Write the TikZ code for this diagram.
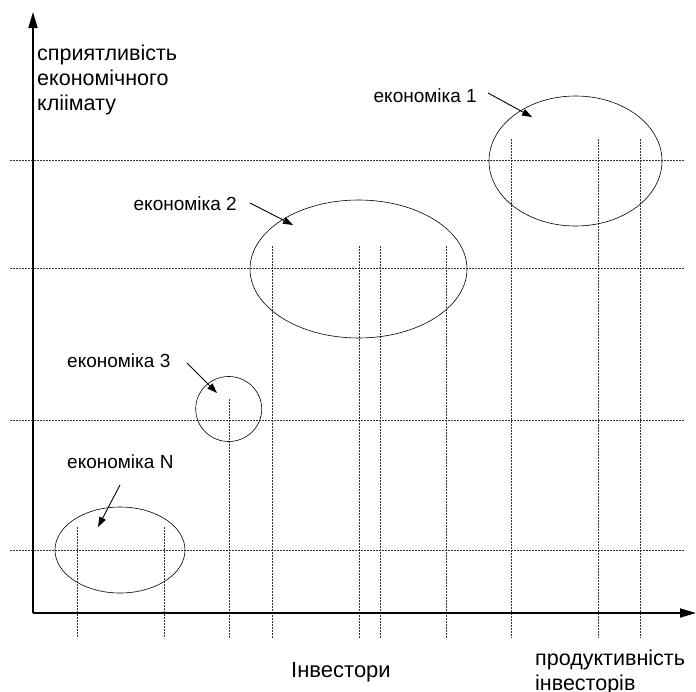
\documentclass[tikz,border=0pt]{standalone}
\usepackage{fontspec}
\setmainfont{Liberation Sans}
\usetikzlibrary{arrows.meta,shapes.geometric}
\begin{document}
\begin{tikzpicture}[x=1pt,y=-1pt,
  grid/.style={black!80,line width=0.6pt,dash pattern=on 2pt off 1pt},
  axis/.style={line width=1.8pt,-{Triangle[length=16pt,width=9pt]}},
  zone/.style={draw,ellipse,line width=0.6pt,inner sep=0pt},
  pointer/.style={line width=0.9pt,-{Triangle[length=10pt,width=7pt]}},
  lbl/.style={font=\fontsize{19}{22}\selectfont,inner sep=0pt},
  axlbl/.style={font=\fontsize{21.5}{25}\selectfont,inner sep=0pt,align=left}]
\useasboundingbox (0,0) rectangle (696,691);
% horizontal grid levels
\foreach \y in {160,268,420,550}
  \draw[grid] (10,\y) -- (685,\y);
% vertical grid lines: each group reaches its own level
\foreach \x in {77,164}
  \draw[grid] (\x,527) -- (\x,638);
\draw[grid] (229,399) -- (229,638);
\foreach \x in {272,359,380,446}
  \draw[grid] (\x,246) -- (\x,638);
\foreach \x in {511,598,640}
  \draw[grid] (\x,139) -- (\x,638);
% axes
\coordinate (o) at (33,613);
\coordinate (ytip) at (33,12);
\coordinate (xtip) at (696,613);
\draw[axis] (o) -- (ytip);
\draw[axis] (o) -- (xtip);
% economies
\node[zone,minimum width=173pt,minimum height=130pt] (e1) at (575.5,161) {};
\node[zone,minimum width=217pt,minimum height=138pt] (e2) at (358.5,269) {};
\node[zone,minimum width=66pt,minimum height=65pt] (e3) at (228.7,409) {};
\node[zone,minimum width=130pt,minimum height=86pt] (eN) at (120,550) {};
% labels
\node[lbl,anchor=base east] (l1) at (477,102) {економіка 1};
\node[lbl,anchor=base east] (l2) at (237,210) {економіка 2};
\node[lbl,anchor=base west] (l3) at (67,367) {економіка 3};
\node[lbl,anchor=base west] (lN) at (67,468) {економіка N};
% pointers
\coordinate (s1) at (488,93);  \coordinate (t1) at (532,117);
\coordinate (s2) at (250,203); \coordinate (t2) at (293,225);
\coordinate (s3) at (187,363); \coordinate (t3) at (217,393);
\coordinate (sN) at (120,485); \coordinate (tN) at (98,527);
\draw[pointer] (s1) -- (t1);
\draw[pointer] (s2) -- (t2);
\draw[pointer] (s3) -- (t3);
\draw[pointer] (sN) -- (tN);
% axis titles
\node[axlbl,anchor=north west] (ytitle) at (37,45) {сприятливість\\економічного\\кліімату};
\node[axlbl,font=\fontsize{22}{25}\selectfont,anchor=base] (xtitle) at (341,677) {Інвестори};
\node[axlbl,anchor=north west] (xtitle2) at (535,650) {продуктивність\\інвесторів};
\end{tikzpicture}
\end{document}
